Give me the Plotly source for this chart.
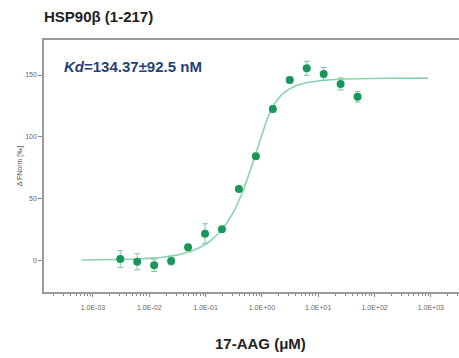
import numpy as np
import plotly.graph_objects as go

# MST dose-response: 17-AAG titrated against HSP90beta (1-217)
conc_uM = [0.00305, 0.0061, 0.0122, 0.0244, 0.0488, 0.0977, 0.195, 0.39,
           0.78, 1.5625, 3.125, 6.25, 12.5, 25.0, 50.0]
fnorm = [0.8, -1.4, -4.3, -0.8, 10.3, 21.3, 24.9, 57.6,
         84.1, 122.4, 146.0, 155.4, 150.8, 142.7, 132.4]
fnorm_err = [6.9, 6.5, 4.9, 3.2, 2.4, 8.1, 1.5, 1.2,
             2.0, 2.4, 2.4, 5.7, 5.3, 4.9, 4.3]

# fit parameters (Kd model)
kd_uM = 0.13437
kd_err_nM = 92.5
target_uM = 1.0
unbound = 0.0
bound = 147.5

x_tickvals = [1e-3, 1e-2, 1e-1, 1e0, 1e1, 1e2, 1e3]
x_ticktext = ["1.0E-03", "1.0E-02", "1.0E-01", "1.0E+00", "1.0E+01", "1.0E+02", "1.0E+03"]
y_tickvals = [0, 50, 100, 150]

FONT = "Liberation Sans, Arial, sans-serif"
W, H = 459, 358
M_L, M_R, M_T, M_B = 44, 0, 40, 66
plot_w = W - M_L - M_R
plot_h = H - M_T - M_B

# fitted curve from the quadratic binding model
c = np.logspace(-3.2, 2.95, 300)
s = c + target_uM + kd_uM
frac = (s - np.sqrt(s ** 2 - 4 * c * target_uM)) / (2 * target_uM)
fit = unbound + (bound - unbound) * frac

fig = go.Figure()
fig.add_trace(go.Scatter(
    x=c, y=fit, mode="lines",
    line=dict(color="#8ad3ad", width=1.6),
    hoverinfo="skip", showlegend=False,
))
fig.add_trace(go.Scatter(
    x=conc_uM, y=fnorm, mode="markers",
    marker=dict(color="#17985a", size=8),
    error_y=dict(type="data", array=fnorm_err, visible=True,
                 color="#7cc9a0", thickness=1, width=3),
    showlegend=False,
))

# Kd label inside the plot
fig.add_annotation(
    x=0, xref="paper", xanchor="left", xshift=18,
    y=157, yref="y", yanchor="middle",
    text=f"<b><i>Kd</i>={kd_uM * 1000:.2f}±{kd_err_nM} nM</b>",
    showarrow=False,
    font=dict(family=FONT, size=15, color="#27407a"),
)

# x-axis title, placed slightly right of the plot centre
fig.add_annotation(
    x=(260 - M_L) / plot_w, xref="paper", xanchor="center",
    y=-(343 - (M_T + plot_h)) / plot_h, yref="paper", yanchor="middle",
    text="<b>17-AAG (μM)</b>", showarrow=False,
    font=dict(family=FONT, size=15, color="#222"),
)

fig.update_layout(
    width=W, height=H,
    margin=dict(l=M_L, r=M_R, t=M_T, b=M_B),
    paper_bgcolor="white", plot_bgcolor="white",
    title=dict(
        text="<b>HSP90β (1-217)</b>",
        x=0, xref="paper", xanchor="left",
        y=1 - 17 / H, yref="container", yanchor="middle",
        font=dict(family=FONT, size=15, color="#222"),
    ),
    xaxis=dict(
        type="log", range=[-3.87, 3.5],
        tickvals=x_tickvals, ticktext=x_ticktext,
        ticks="outside", ticklen=3, tickcolor="#888", tickwidth=1,
        minor=dict(ticks="outside", ticklen=2, tickcolor="#888", dtick="D1"),
        showline=True, linecolor="#9a9a9a", linewidth=1.5, mirror=True,
        showgrid=False, zeroline=False,
        ticklabelstandoff=5,
        tickfont=dict(family=FONT, size=7, color="#666"),
    ),
    yaxis=dict(
        range=[-25.9, 178.4],
        tickvals=y_tickvals,
        ticks="outside", ticklen=4, tickcolor="#888", tickwidth=1,
        showline=True, linecolor="#9a9a9a", linewidth=1.5,
        showgrid=False, zeroline=False,
        tickfont=dict(family=FONT, size=7, color="#666"),
        title=dict(
            text="Δ FNorm [‰]", standoff=2,
            font=dict(family=FONT, size=7, color="#555"),
        ),
    ),
)

fig.write_html("out.html")
